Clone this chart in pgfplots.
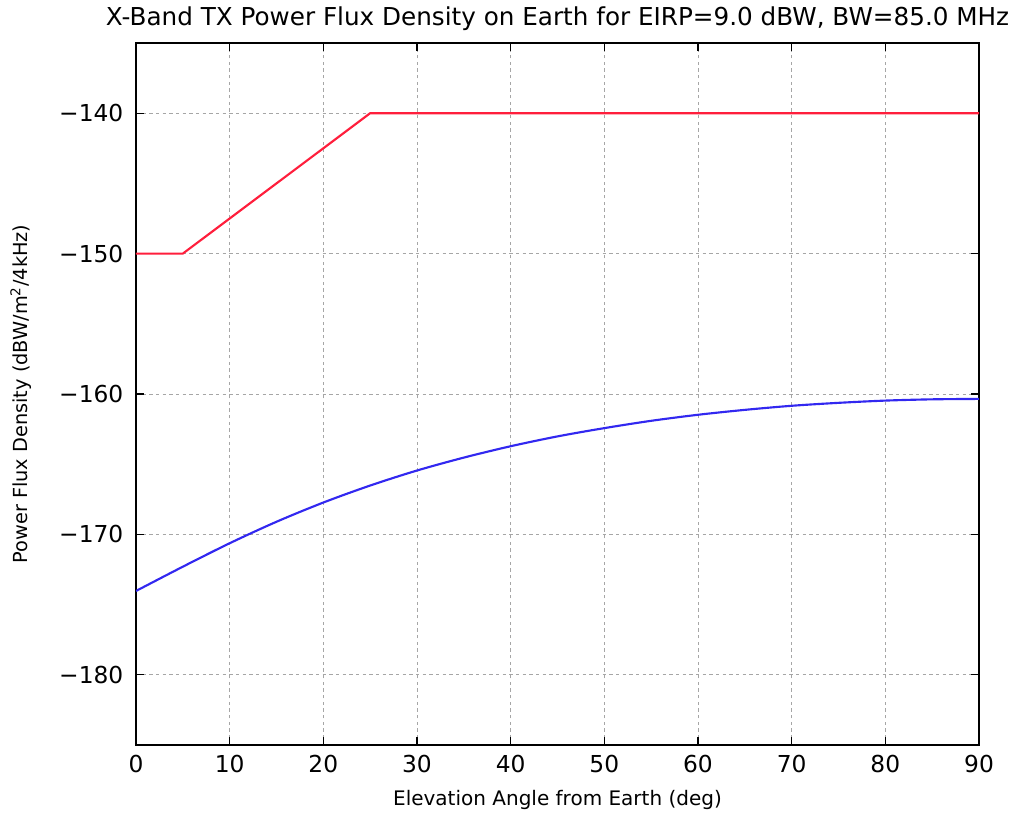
\documentclass[border=0pt]{standalone}
\usepackage{pgfplots}
\pgfplotsset{compat=1.18}
\usepackage{fontspec}
\setmainfont{DejaVu Sans}
\definecolor{myred}{RGB}{255,30,60}
\definecolor{myblue}{RGB}{50,40,240}
\begin{document}
\begin{tikzpicture}
\path[use as bounding box] (-102pt,-54pt) rectangle (663.75pt,558.75pt);
\begin{axis}[
  scale only axis,
  width=632.25pt, height=526.5pt,
  xmin=0, xmax=90, ymin=-185, ymax=-135,
  xtick={0,10,...,90},
  ytick={-180,-170,-160,-150,-140},
  yticklabels={−180,−170,−160,−150,−140},
  xticklabels={0,10,20,30,40,50,60,70,80,90},
  tick align=inside,
  major tick length=6pt,
  tick style={black, line width=0.8pt},
  axis line style={black, line width=1.2pt},
  grid=major,
  major grid style={gray!70, dash pattern=on 2.5pt off 2.5pt, line width=0.5pt},
  ticklabel style={font=\fontsize{17.5}{20}\selectfont},
  xticklabel style={yshift=-4pt},
  yticklabel style={xshift=-6pt},
  title={X-Band TX Power Flux Density on Earth for EIRP=9.0 dBW, BW=85.0 MHz},
  title style={font=\fontsize{18.5}{21}\selectfont, yshift=0pt},
  xlabel={Elevation Angle from Earth (deg)},
  ylabel={Power Flux Density (dBW/m\textsuperscript{2}/4kHz)},
  xlabel style={font=\fontsize{15}{18}\selectfont, yshift=-6pt},
  ylabel style={font=\fontsize{14.5}{17}\selectfont, yshift=14pt},
]
\addplot[myred, line width=1.6pt] coordinates {(0,-150) (5,-150) (25,-140) (90,-140)};
\addplot[myblue, line width=1.6pt, smooth] coordinates {
(0,-174.03) (5,-172.30) (10,-170.63) (15,-169.10) (20,-167.73) (25,-166.52)
(30,-165.45) (35,-164.53) (40,-163.72) (45,-163.02) (50,-162.43) (55,-161.91)
(60,-161.48) (65,-161.13) (70,-160.84) (75,-160.63) (80,-160.47) (85,-160.38) (90,-160.35)};
\end{axis}
\end{tikzpicture}
\end{document}
